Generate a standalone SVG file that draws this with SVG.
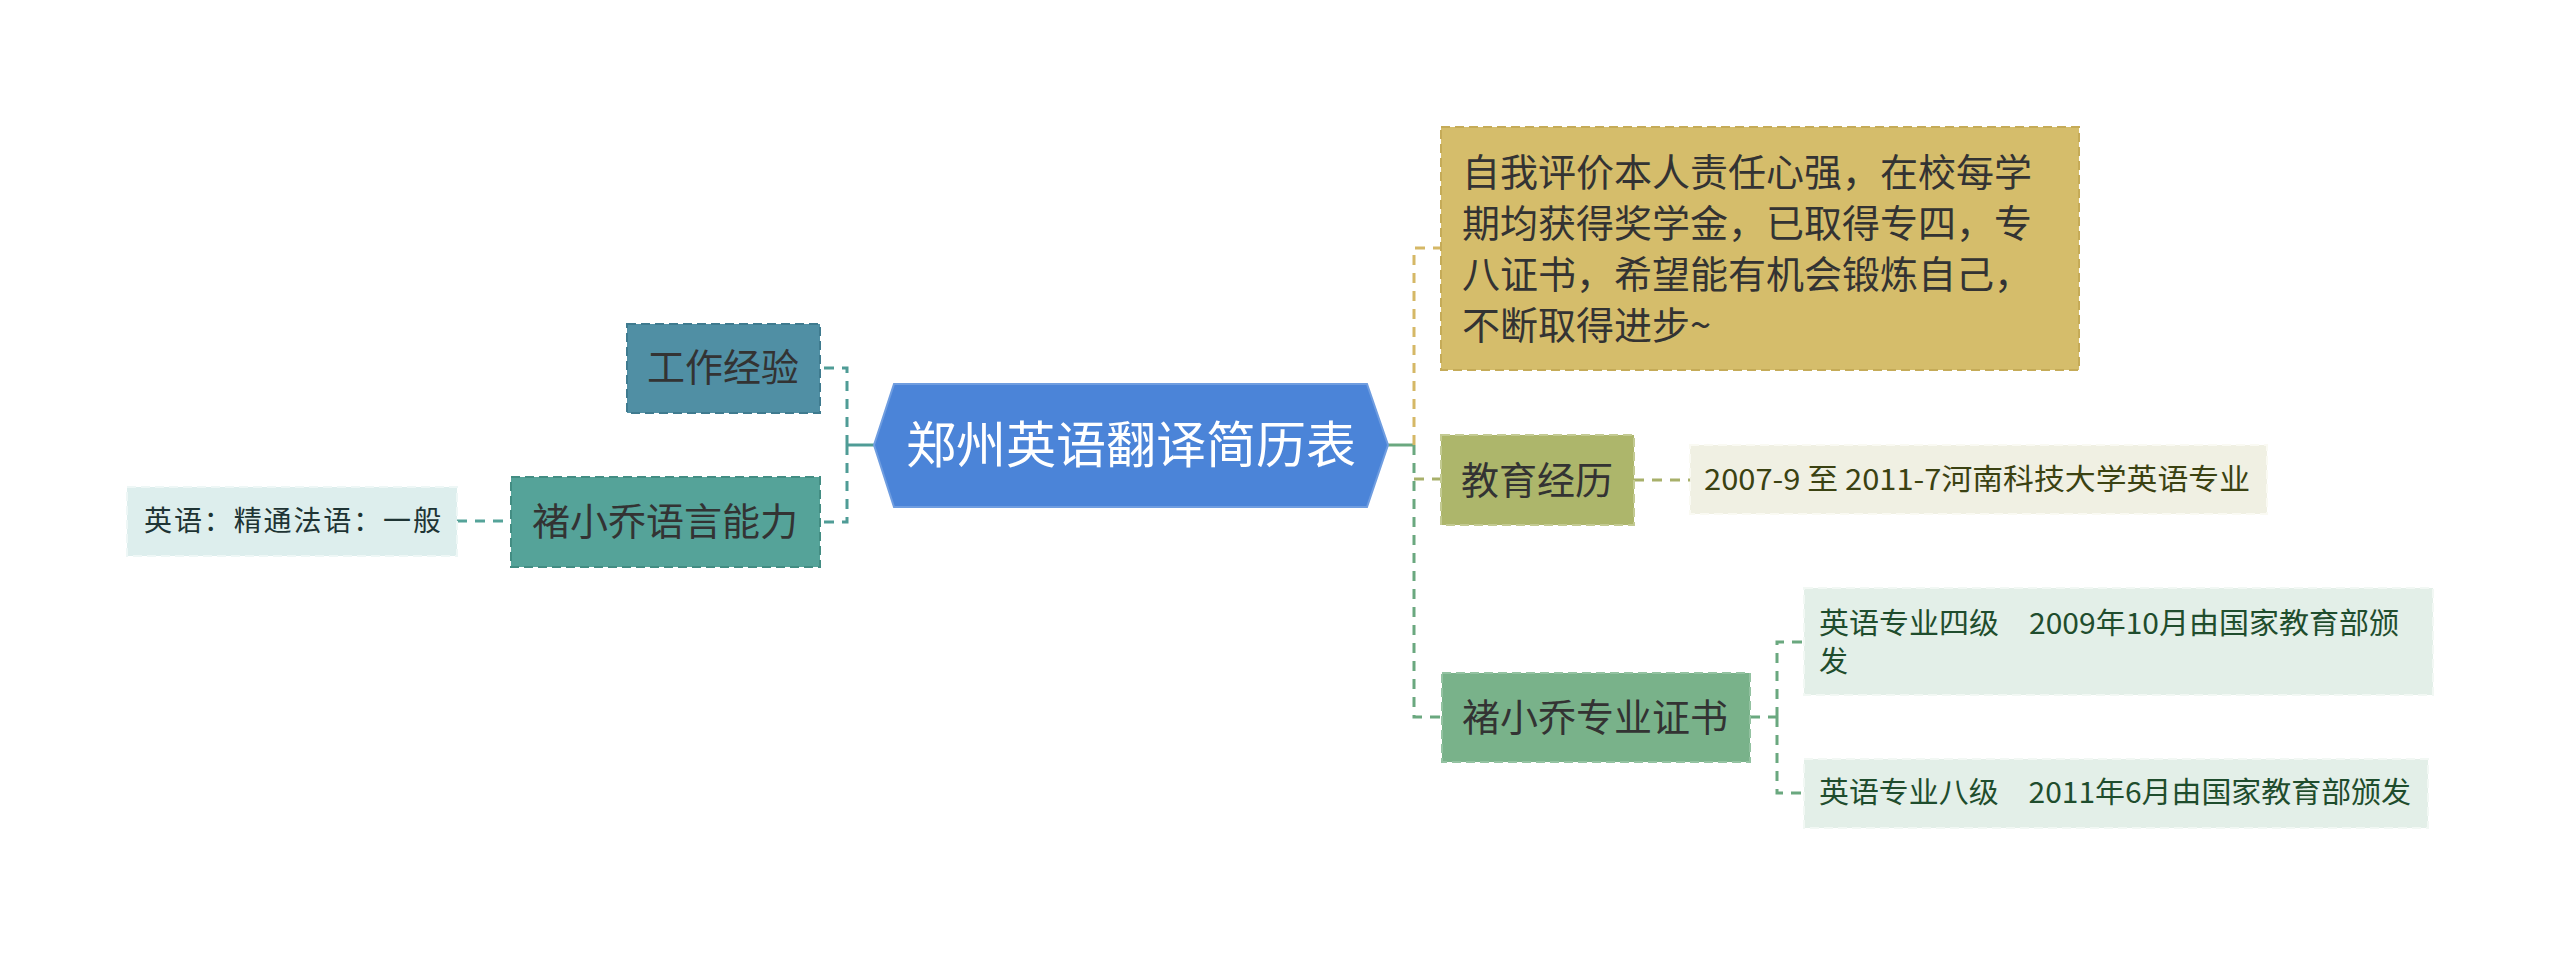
<svg xmlns="http://www.w3.org/2000/svg" width="2560" height="956" viewBox="0 0 2560 956">
<style>
text{font-family:"Noto Sans CJK SC","Noto Sans",sans-serif;}
.c{fill:none;stroke-width:3;stroke-dasharray:10 8;}
.s{fill:none;stroke-width:3;}
.box{stroke-width:2;stroke-dasharray:9 5;}
.t38{font-size:38px;fill:#333;}
.t29{font-size:29px;}
</style>
<rect width="2560" height="956" fill="#fff"/>
<g id="connectors">
  <line class="s" x1="847" y1="445" x2="874" y2="445" stroke="#4f9c96"/>
  <path class="c" d="M847 445 V368 H820" stroke="#4f9c96"/>
  <path class="c" d="M847 445 V522 H820" stroke="#4f9c96"/>
  <line class="c" x1="457" y1="521" x2="511" y2="521" stroke="#55a399"/>
  <line class="s" x1="1388" y1="445" x2="1414" y2="445" stroke="#6aa87f"/>
  <path class="c" d="M1414 445 V248 H1441" stroke="#d5b866"/>
  <path class="c" d="M1414 445 V717 H1441" stroke="#6aa87f"/>
  <path class="c" d="M1414 479 H1441" stroke="#a8b06a"/>
  <line class="c" x1="1634" y1="480" x2="1690" y2="480" stroke="#a8b06a"/>
  <line class="c" x1="1750" y1="717" x2="1777" y2="717" stroke="#6aa87f"/>
  <path class="c" d="M1777 717 V642 H1803" stroke="#6aa87f"/>
  <path class="c" d="M1777 717 V793 H1803" stroke="#6aa87f"/>
</g>
<g id="root">
  <polygon points="874,445 894,384 1367,384 1388,445 1367,507 894,507" fill="#4b84d8" stroke="#6f9de0" stroke-width="2"/>
  <text x="1131" y="463" text-anchor="middle" font-size="50" fill="#fff">郑州英语翻译简历表</text>
</g>
<g id="work">
  <rect class="box" x="627" y="324" width="193" height="89" fill="#508fa4" stroke="#3f7b8f"/>
  <text class="t38" x="723" y="381" text-anchor="middle">工作经验</text>
</g>
<g id="lang">
  <rect class="box" x="511" y="477" width="309" height="90" fill="#55a399" stroke="#438d83"/>
  <text class="t38" x="665" y="535" text-anchor="middle">褚小乔语言能力</text>
</g>
<g id="lang-detail">
  <rect class="box" x="127" y="487" width="330" height="69" fill="#ddeeed" stroke="#eef7f6"/>
  <text x="144" y="531" font-size="28" fill="#1e3434" textLength="297" lengthAdjust="spacing">英语：精通法语：一般</text>
</g>
<g id="self">
  <rect class="box" x="1441" y="127" width="638" height="243" fill="#d5bd6b" stroke="#c5ab58"/>
  <text class="t38" x="1462" y="186">自我评价本人责任心强，在校每学</text>
  <text class="t38" x="1462" y="237">期均获得奖学金，已取得专四，专</text>
  <text class="t38" x="1462" y="288">八证书，希望能有机会锻炼自己，</text>
  <text class="t38" x="1462" y="339">不断取得进步~</text>
</g>
<g id="edu">
  <rect class="box" x="1441" y="435" width="193" height="90" fill="#adb66b" stroke="#c3ca92"/>
  <text class="t38" x="1537" y="494" text-anchor="middle">教育经历</text>
</g>
<g id="edu-detail">
  <rect class="box" x="1690" y="445" width="577" height="69" fill="#f0f0e3" stroke="#fafaf3"/>
  <text class="t29" x="1704" y="490" fill="#3b4212" textLength="546" lengthAdjust="spacingAndGlyphs">2007-9 至 2011-7河南科技大学英语专业</text>
</g>
<g id="cert">
  <rect class="box" x="1442" y="673" width="308" height="89" fill="#79b28a" stroke="#93c2a1"/>
  <text class="t38" x="1595" y="731" text-anchor="middle">褚小乔专业证书</text>
</g>
<g id="cert4">
  <rect class="box" x="1804" y="588" width="629" height="107" fill="#e3efe8" stroke="#f2f8f4"/>
  <text class="t29" x="1819" y="634" fill="#1f4d2d" textLength="580" lengthAdjust="spacingAndGlyphs">英语专业四级　2009年10月由国家教育部颁</text>
  <text class="t29" x="1819" y="672" fill="#1f4d2d">发</text>
</g>
<g id="cert8">
  <rect class="box" x="1804" y="759" width="624" height="69" fill="#e3efe8" stroke="#f2f8f4"/>
  <text class="t29" x="1819" y="803" fill="#1f4d2d" textLength="592" lengthAdjust="spacingAndGlyphs">英语专业八级　2011年6月由国家教育部颁发</text>
</g>
</svg>
